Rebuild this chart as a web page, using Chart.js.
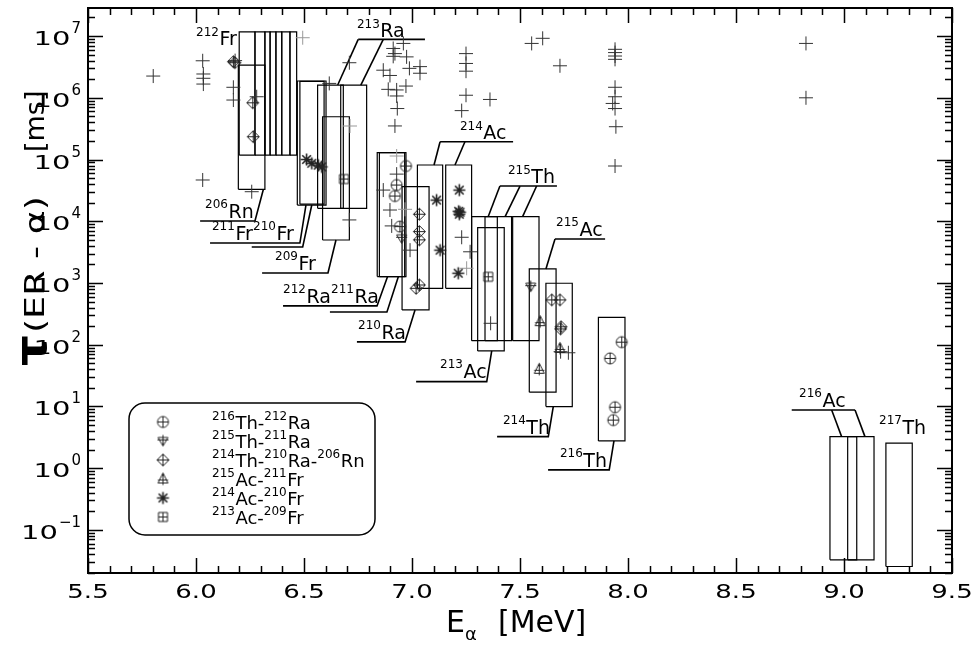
<!DOCTYPE html>
<html>
<head>
<meta charset="utf-8">
<script src="https://cdn.jsdelivr.net/npm/chart.js@4.4.1/dist/chart.umd.min.js"></script>
<style>
  html, body { margin: 0; background: #fff; }
</style>
</head>
<body>
<canvas id="chart" width="974" height="647"></canvas>
<script>
// axis ticks
const xTicks = [5.5, 6.0, 6.5, 7.0, 7.5, 8.0, 8.5, 9.0, 9.5];
const yExponents = [-1, 0, 1, 2, 3, 4, 5, 6, 7];

// correlated chains [E_alpha MeV, tau ms]
const th216ra212 = [[6.972, 7.85e4], [6.929, 3.86e4], [6.921, 2.56e4], [6.944, 8.2e3],
  [7.971, 110], [7.917, 60], [7.940, 9.7], [7.932, 6.0]];
const th215ra211 = [[6.952, 5.3e3], [7.550, 871]];
const th214ra210rn206 = [[6.173, 3.84e6], [6.180, 3.7e6], [6.263, 8.3e5], [6.265, 2.34e5],
  [7.034, 1.3e4], [7.034, 6.8e3], [7.034, 5.0e3], [7.034, 929], [7.019, 820],
  [7.647, 531], [7.685, 531], [7.688, 180], [7.690, 195]];
const ac215fr211 = [[7.593, 236], [7.589, 40], [7.685, 87]];
const ac214fr210 = [[7.114, 2.2e4], [7.130, 3.4e3], [7.219, 3.2e4], [7.219, 1.3e4], [7.222, 1.4e4],
  [7.216, 1.45e4], [7.214, 1.44e3], [6.512, 1.0e5], [6.536, 8.7e4], [6.566, 8.1e4], [6.582, 7.6e4]];
const ac213fr209 = [[6.685, 4.83e4], [7.353, 1.26e3]];

// other (uncorrelated) events
const otherEvents = [[5.802, 2.25e6], [6.031, 3.98e6], [6.034, 2.43e6], [6.034, 2.07e6], [6.034, 1.67e6],
  [6.173, 1.48e6], [6.173, 9.2e5], [6.031, 4.66e4], [6.258, 3.01e4], [6.710, 3.7e6],
  [6.617, 1.71e6], [6.710, 1.05e4], [6.281, 1.04e6], [6.181, 4.0e6],
  [6.960, 7.6e6], [6.913, 6.3e6], [6.921, 5.2e6], [6.913, 4.7e6], [6.975, 4.6e6], [6.867, 2.8e6],
  [6.898, 2.3e6], [6.988, 3.0e6], [7.037, 3.2e6], [7.037, 2.5e6], [6.890, 1.37e6], [6.929, 1.34e6],
  [6.972, 1.55e6], [6.929, 1.07e6], [6.932, 6.7e5], [6.921, 3.5e5],
  [7.250, 5.2e6], [7.250, 3.6e6], [7.250, 2.7e6], [7.250, 1.1e6], [7.361, 9.4e5], [7.230, 6.2e5],
  [7.554, 7.6e6], [7.605, 9.2e6], [7.685, 3.3e6],
  [7.940, 6.1e6], [7.940, 5.4e6], [7.940, 4.75e6], [7.940, 4.2e6], [7.940, 1.48e6], [7.940, 1.04e6],
  [7.929, 8.1e5], [7.940, 6.7e5], [7.944, 3.4e5], [7.940, 7.85e4], [8.824, 7.6e6], [8.824, 1.0e6],
  [6.929, 5.8e4], [6.867, 3.2e4], [6.898, 1.52e4], [6.906, 8.4e3], [6.991, 3.4e3],
  [7.230, 5.5e3], [7.269, 3.2e3], [7.364, 222], [7.688, 77], [7.724, 74]];
// fainter events
const otherFaint = [[6.494, 9.4e6], [6.713, 3.49e5], [6.929, 1.14e5], [6.968, 1.56e4], [7.253, 1.73e3]];

// expected windows [E1, E2, tauMin, tauMax]
const windows = [
  [6.200, 6.273, 1.18e5, 1.17e7], [6.273, 6.319, 1.18e5, 1.17e7], [6.319, 6.343, 1.18e5, 1.17e7],
  [6.343, 6.370, 1.18e5, 1.17e7], [6.370, 6.397, 1.18e5, 1.17e7], [6.397, 6.435, 1.18e5, 1.17e7],
  [6.435, 6.466, 1.18e5, 1.17e7],
  [6.196, 6.319, 3.29e4, 3.39e6],
  [6.469, 6.602, 1.83e4, 1.87e6], [6.481, 6.593, 1.9e4, 1.85e6],
  [6.563, 6.682, 1.62e4, 1.61e6], [6.670, 6.790, 1.62e4, 1.61e6],
  [6.586, 6.710, 4.97e3, 4.93e5],
  [6.839, 6.966, 1.27e3, 1.29e5], [6.849, 6.972, 1.27e3, 1.29e5],
  [6.954, 7.079, 366, 3.63e4],
  [7.025, 7.142, 820, 8.15e4], [7.156, 7.276, 820, 8.15e4],
  [7.276, 7.395, 116, 1.19e4], [7.338, 7.461, 116, 1.19e4], [7.466, 7.588, 116, 1.19e4],
  [7.304, 7.427, 79.3, 7.87e3],
  [7.543, 7.667, 17.0, 1.69e3],
  [7.620, 7.742, 9.93, 989],
  [7.863, 7.986, 2.76, 278],
  [8.935, 9.059, 0.0327, 3.24], [9.017, 9.139, 0.0327, 3.24],
  [9.194, 9.316, 0.0255, 2.54]
];

// label leader lines (data units)
const leaders = [
  [[6.019, 1.01e4], [6.273, 1.01e4], [6.312, 3.29e4]],
  [[6.065, 4.44e3], [6.481, 4.44e3], [6.509, 1.83e4]],
  [[6.258, 3.83e3], [6.494, 3.83e3], [6.536, 1.83e4]],
  [[6.306, 1.45e3], [6.611, 1.45e3], [6.648, 4.97e3]],
  [[6.751, 8.85e6], [7.060, 8.85e6]], [[6.751, 8.85e6], [6.656, 1.61e6]], [[6.867, 8.85e6], [6.763, 1.61e6]],
  [[6.403, 425], [6.838, 425], [6.887, 1.27e3]],
  [[6.620, 339], [6.884, 339], [6.937, 1.27e3]],
  [[6.745, 111], [6.968, 111], [7.014, 366]],
  [[7.130, 1.94e5], [7.468, 1.94e5]], [[7.130, 1.94e5], [7.102, 8.15e4]], [[7.245, 1.94e5], [7.199, 8.15e4]],
  [[7.407, 3.72e4], [7.671, 3.72e4]], [[7.407, 3.72e4], [7.353, 1.19e4]], [[7.500, 3.72e4], [7.431, 1.19e4]],
  [[7.577, 3.72e4], [7.512, 1.19e4]],
  [[7.662, 5.16e3], [7.894, 5.16e3]], [[7.662, 5.16e3], [7.620, 1.69e3]],
  [[7.019, 25.2], [7.346, 25.2], [7.369, 79.3]],
  [[7.394, 3.24], [7.631, 3.24], [7.654, 9.93]],
  [[7.630, 0.937], [7.913, 0.937], [7.935, 2.76]],
  [[8.758, 8.77], [9.051, 8.77]], [[8.943, 8.77], [8.989, 3.24]], [[9.051, 8.77], [9.097, 3.24]]
];

// isotope labels: name, E, tau (left / baseline)
const isoLabels = [
  ["212Fr", 6.0, 7.15e6], ["206Rn", 6.042, 1.13e4], ["211Fr", 6.074, 4.97e3], ["210Fr", 6.264, 4.97e3],
  ["209Fr", 6.366, 1.63e3], ["213Ra", 6.745, 9.6e6], ["212Ra", 6.403, 474], ["211Ra", 6.625, 474],
  ["210Ra", 6.750, 124], ["214Ac", 7.222, 2.15e5], ["215Th", 7.444, 4.16e4], ["215Ac", 7.667, 5.77e3],
  ["213Ac", 7.130, 29], ["214Th", 7.421, 3.59], ["216Th", 7.685, 1.05], ["216Ac", 8.792, 9.8],
  ["217Th", 9.162, 3.59]
];

const FONT = '"DejaVu Sans", Verdana, sans-serif';
const INK = "#222";

// marker glyphs
function glyph(draw, lw) {
  const c = document.createElement("canvas");
  c.width = c.height = 17;
  const g = c.getContext("2d");
  g.strokeStyle = INK;
  g.lineWidth = lw || 1;
  g.translate(8.5, 8.5);
  g.beginPath();
  draw(g);
  g.stroke();
  return c;
}
const plus = (g, r) => { g.moveTo(-r, 0); g.lineTo(r, 0); g.moveTo(0, -r); g.lineTo(0, r); };
const markCirclePlus = glyph(g => { g.arc(0, 0, 5.5, 0, Math.PI * 2); plus(g, 5.5); });
const markTriDown = glyph(g => { g.moveTo(-5, -3.5); g.lineTo(5, -3.5); g.lineTo(0, 5); g.closePath(); g.moveTo(0, -6); g.lineTo(0, 5); g.moveTo(-5.5, -1); g.lineTo(5.5, -1); });
const markDiamond = glyph(g => { g.moveTo(0, -6); g.lineTo(6, 0); g.lineTo(0, 6); g.lineTo(-6, 0); g.closePath(); plus(g, 6); });
const markTriUp = glyph(g => { g.moveTo(0, -6); g.lineTo(5, 4); g.lineTo(-5, 4); g.closePath(); g.moveTo(0, -6); g.lineTo(0, 6); g.moveTo(-5, 1); g.lineTo(5, 1); });
const markStar = glyph(g => { plus(g, 6); g.moveTo(-4.3, -4.3); g.lineTo(4.3, 4.3); g.moveTo(-4.3, 4.3); g.lineTo(4.3, -4.3); }, 1.6);
const markSquare = glyph(g => { g.rect(-4.5, -4.5, 9, 9); plus(g, 4.5); });

const series = [
  { name: "216Th-212Ra", data: th216ra212, style: markCirclePlus },
  { name: "215Th-211Ra", data: th215ra211, style: markTriDown },
  { name: "214Th-210Ra-206Rn", data: th214ra210rn206, style: markDiamond },
  { name: "215Ac-211Fr", data: ac215fr211, style: markTriUp },
  { name: "214Ac-210Fr", data: ac214fr210, style: markStar },
  { name: "213Ac-209Fr", data: ac213fr209, style: markSquare }
];

const toXY = arr => arr.map(([x, y]) => ({ x, y }));
const datasets = [];
windows.forEach(([e1, e2, lo, hi]) => datasets.push({
  data: toXY([[e1, lo], [e2, lo], [e2, hi], [e1, hi], [e1, lo]]),
  showLine: true, borderColor: "#000", borderWidth: 1.2, pointRadius: 0, order: 3
}));
leaders.forEach(l => datasets.push({
  data: toXY(l), showLine: true, borderColor: "#000", borderWidth: 1.6, pointRadius: 0, order: 3
}));
datasets.push({
  data: toXY(otherEvents), pointStyle: "cross", pointRadius: 7, borderColor: "#333",
  borderWidth: 1, order: 2
});
datasets.push({
  data: toXY(otherFaint), pointStyle: "cross", pointRadius: 7, borderColor: "#999",
  borderWidth: 1, order: 2
});
series.forEach(s => datasets.push({
  label: s.name, data: toXY(s.data), pointStyle: s.style, pointRadius: 6, order: 1
}));

// isotope text: mass number as superscript
function drawIso(ctx, name, x, y, size) {
  const m = name.match(/^(\d+)([A-Za-z]+)$/);
  const sup = Math.round(size * 0.64);
  ctx.font = sup + "px " + FONT;
  ctx.fillText(m[1], x, y - size * 0.5);
  x += ctx.measureText(m[1]).width + 0.5;
  ctx.font = size + "px " + FONT;
  ctx.fillText(m[2], x, y);
  return x + ctx.measureText(m[2]).width;
}

// stretched text helper, returns advance
function wideText(ctx, str, x, y, font, sx) {
  ctx.save();
  ctx.font = font;
  const w = ctx.measureText(str).width * sx;
  ctx.translate(x, y);
  ctx.scale(sx, 1);
  ctx.fillText(str, 0, 0);
  ctx.restore();
  return w;
}

const decor = {
  id: "decor",
  afterDatasetsDraw(chart) {
    const { ctx, chartArea: a, scales: { x, y } } = chart;
    ctx.save();
    ctx.strokeStyle = "#000";
    ctx.fillStyle = "#000";
    ctx.textBaseline = "alphabetic";

    // inward ticks on all four sides
    ctx.lineWidth = 1.5;
    ctx.beginPath();
    for (let i = 0; i <= 40; i++) {
      const px = Math.round(x.getPixelForValue(5.5 + i * 0.1)) + 0.5;
      const L = i % 5 === 0 ? 15 : 7;
      ctx.moveTo(px, a.bottom); ctx.lineTo(px, a.bottom - L);
      ctx.moveTo(px, a.top); ctx.lineTo(px, a.top + L);
    }
    for (let n = -2; n <= 7; n++) {
      for (let k = 1; k < 10; k++) {
        const v = k * Math.pow(10, n);
        if (v < y.min || v > y.max) continue;
        const py = Math.round(y.getPixelForValue(v)) + 0.5;
        const L = k === 1 ? 15 : 7;
        ctx.moveTo(a.left, py); ctx.lineTo(a.left + L, py);
        ctx.moveTo(a.right, py); ctx.lineTo(a.right - L, py);
      }
    }
    ctx.stroke();
    ctx.lineWidth = 2;
    ctx.strokeRect(a.left, a.top, a.right - a.left, a.bottom - a.top);

    // tick labels
    const tf = "20px " + FONT;
    ctx.font = tf;
    x.ticks.forEach(t => {
      const s = t.value.toFixed(1);
      const w = ctx.measureText(s).width * 1.3;
      wideText(ctx, s, x.getPixelForValue(t.value) - w / 2, a.bottom + 25, tf, 1.3);
    });
    y.ticks.forEach(t => {
      const e = String(Math.round(Math.log10(t.value))).replace("-", "\u2212");
      const py = y.getPixelForValue(t.value);
      ctx.font = "15px " + FONT;
      const ew = ctx.measureText(e).width;
      const ex = a.left - 7 - ew;
      ctx.fillText(e, ex, py - 3);
      ctx.font = tf;
      const bw = ctx.measureText("10").width * 1.45;
      wideText(ctx, "10", ex - bw - 1, py + 9, tf, 1.45);
    });

    // axis titles
    let tx = 446;
    tx += wideText(ctx, "E", tx, 632, "30px " + FONT, 1.0);
    wideText(ctx, "\u03b1", tx, 640, "18px " + FONT, 1.0);
    wideText(ctx, "[MeV]", 498, 632, "30px " + FONT, 1.0);

    ctx.save();
    ctx.translate(46, 366);
    ctx.rotate(-Math.PI / 2);
    let ty = wideText(ctx, "\u03c4", 0, 0, "bold 44px " + FONT, 1.1);
    wideText(ctx, "(ER - \u03b1)", ty + 2, -2, "27px " + FONT, 1.35);
    wideText(ctx, "[ms]", 214, -2, "27px " + FONT, 1.0);
    ctx.restore();

    // isotope labels
    isoLabels.forEach(([name, e, tau]) => {
      drawIso(ctx, name, x.getPixelForValue(e), y.getPixelForValue(tau), 19);
    });

    // legend
    const lx = a.left + 41, ly = a.top + 395, lw = 246, lh = 132, r = 16;
    ctx.beginPath();
    ctx.roundRect(lx, ly, lw, lh, r);
    ctx.fillStyle = "#fff";
    ctx.fill();
    ctx.lineWidth = 1.5;
    ctx.stroke();
    ctx.fillStyle = "#000";
    chart.data.datasets.filter(d => d.label).forEach((d, i) => {
      const ry = ly + 19 + i * 19;
      ctx.drawImage(d.pointStyle, lx + 34 - 8.5, ry - 8.5);
      let cx = lx + 83;
      d.label.split("-").forEach((part, j) => {
        if (j > 0) {
          ctx.font = "18px " + FONT;
          ctx.fillText("-", cx, ry + 7);
          cx += ctx.measureText("-").width;
        }
        cx = drawIso(ctx, part, cx, ry + 7, 18);
      });
    });
    ctx.restore();
  }
};

new Chart(document.getElementById("chart"), {
  type: "scatter",
  data: { datasets },
  options: {
    responsive: false,
    animation: false,
    events: [],
    layout: { padding: { top: 8, right: 22, left: 0, bottom: 0 } },
    plugins: { legend: { display: false }, tooltip: { enabled: false } },
    elements: { line: { tension: 0 } },
    scales: {
      x: {
        type: "linear", min: 5.5, max: 9.5,
        afterBuildTicks: s => { s.ticks = xTicks.map(v => ({ value: v })); },
        afterFit: s => { s.height = 74; },
        ticks: { display: false }, grid: { display: false }, border: { display: false }
      },
      y: {
        type: "logarithmic", min: 0.02, max: 2.85e7,
        afterBuildTicks: s => { s.ticks = yExponents.map(n => ({ value: Math.pow(10, n) })); },
        afterFit: s => { s.width = 88; },
        ticks: { display: false }, grid: { display: false }, border: { display: false }
      }
    }
  },
  plugins: [decor]
});
</script>
</body>
</html>
